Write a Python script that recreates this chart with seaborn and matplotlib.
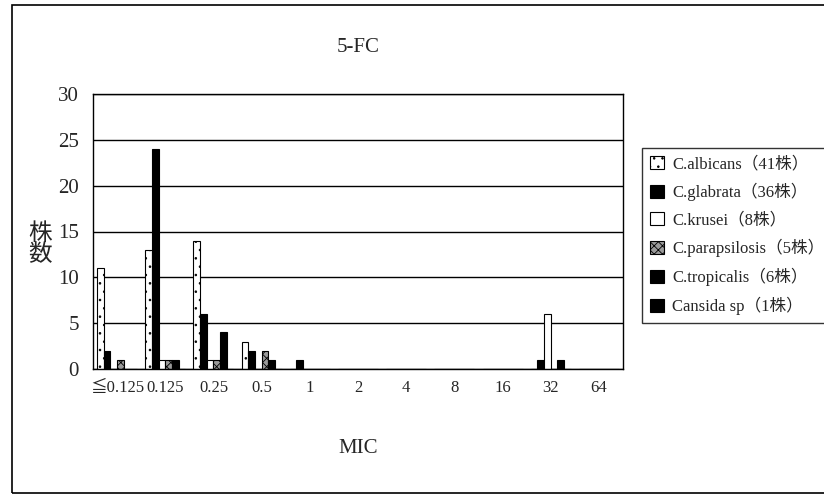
import numpy as np
import pandas as pd
import matplotlib
matplotlib.use('Agg')
import matplotlib.pyplot as plt
import seaborn as sns
from matplotlib.patches import Rectangle
from matplotlib.ticker import FixedLocator

# ── data ─────────────────────────────────────────────────────
mic = ['≦0.125', '0.125', '0.25', '0.5', '1', '2', '4', '8', '16', '32', '64']
species = ['C.albicans（41株）', 'C.glabrata（36株）', 'C.krusei（8株）',
           'C.parapsilosis（5株）', 'C.tropicalis（6株）', 'Cansida sp（1株）']
albicans     = [11, 13, 14, 3, 0, 0, 0, 0, 0, 0, 0]
glabrata     = [2, 24, 6, 2, 1, 0, 0, 0, 0, 1, 0]
krusei       = [0, 1, 1, 0, 0, 0, 0, 0, 0, 6, 0]
parapsilosis = [1, 1, 1, 2, 0, 0, 0, 0, 0, 0, 0]
tropicalis   = [0, 1, 4, 1, 0, 0, 0, 0, 0, 1, 0]
cansida_sp   = [0, 0, 0, 0, 0, 0, 0, 0, 0, 0, 0]

series = [albicans, glabrata, krusei, parapsilosis, tropicalis, cansida_sp]
df = pd.DataFrame({
    'MIC': np.tile(mic, len(species)),
    'species': np.repeat(species, len(mic)),
    'count': np.concatenate(series),
})

# ── styling ──────────────────────────────────────────────────
sns.set_style('white')
plt.rcParams['font.family'] = ['Liberation Serif', 'Noto Sans CJK JP', 'DejaVu Sans']
plt.rcParams['hatch.linewidth'] = 0.6

faces = ['white', 'black', 'white', '#9a9a9a', 'black', 'black']
hatches = ['..', None, None, 'xxxx', None, None]
palette = dict(zip(species, faces))

fig = plt.figure(figsize=(8.24, 4.99), dpi=100)
ax = fig.add_axes([93 / 824, 1 - 369 / 499, 530 / 824, 275 / 499])

sns.barplot(data=df, x='MIC', y='count', hue='species', order=mic,
            hue_order=species, palette=palette, width=0.83,
            edgecolor='black', linewidth=0.8, saturation=1,
            legend=False, ax=ax)

for cont, hatch, sp in zip(ax.containers, hatches, species):
    cont.set_label(sp)
    for bar in cont:
        if hatch:
            bar.set_hatch(hatch)

ax.set_ylim(0, 30)
ax.set_xlim(-0.5, len(mic) - 0.5)
ax.set_yticks(range(0, 31, 5))
ax.yaxis.grid(True, color='black', linewidth=1.0)
ax.set_axisbelow(True)
for s in ax.spines.values():
    s.set_color('black')
    s.set_linewidth(1.0)

ax.xaxis.set_minor_locator(FixedLocator(np.arange(-0.5, len(mic), 1.0)))
ax.tick_params(axis='x', which='major', length=0, labelsize=12, pad=8)
ax.tick_params(axis='x', which='minor', length=4, direction='in', width=1)
ax.tick_params(axis='y', length=0, labelsize=15, pad=10)

ax.set_xlabel('MIC', fontsize=15, labelpad=31)
ax.set_ylabel('')
ax.set_title('5-FC', fontsize=15, pad=30)
fig.text(40 / 824, 1 - 245 / 499, '株\n数', fontsize=17, ha='center',
         va='center', linespacing=0.95)

leg = ax.legend(handles=ax.containers, labels=species,
                loc='upper left', bbox_to_anchor=(642 / 824, 1 - 148 / 499),
                bbox_transform=fig.transFigure, frameon=True, fancybox=False,
                edgecolor='black', fontsize=12, handlelength=0.8,
                handleheight=0.8, handletextpad=0.5, labelspacing=0.64,
                borderpad=0.5, borderaxespad=0)
leg.get_frame().set_linewidth(1.0)

# outer frame round the whole chart (right side runs off the picture)
fig.patches.append(Rectangle((12 / 824, 6 / 499), 830 / 824, 488 / 499,
                             transform=fig.transFigure, fill=False,
                             edgecolor='black', linewidth=1.2))

fig.savefig('out.png', dpi=100)
